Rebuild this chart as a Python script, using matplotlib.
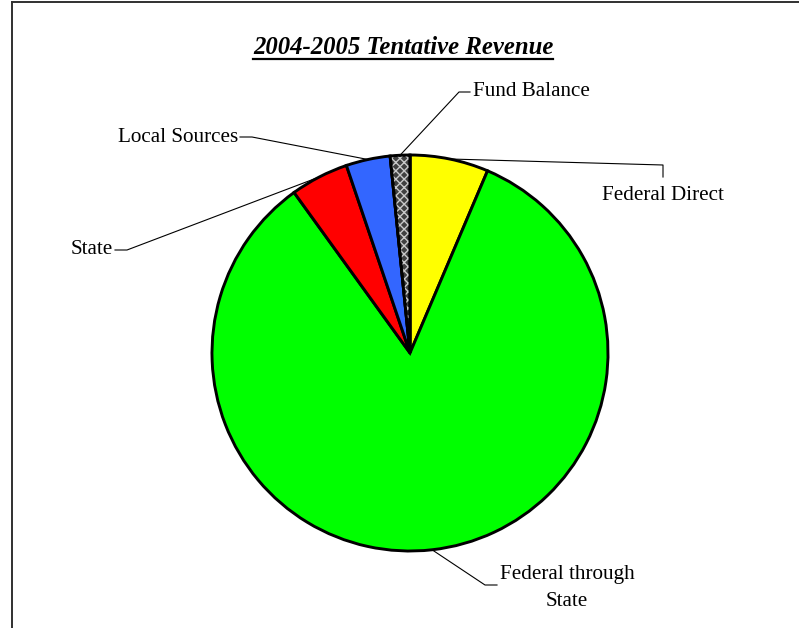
import numpy as np
import matplotlib
matplotlib.use("Agg")
import matplotlib.pyplot as plt
from matplotlib.patches import Wedge
from matplotlib.lines import Line2D

# Revenue shares (percent)
categories = ["Federal Direct", "Federal through\nState", "State", "Local Sources", "Fund Balance"]
shares = [6.4, 83.6, 4.75, 3.6, 1.6]
colors = ["#FFFF00", "#00FF00", "#FF0000", "#3366FF", "#404040"]
title = "2004-2005 Tentative Revenue"

W, H = 799, 628
fig = plt.figure(figsize=(W / 100, H / 100), dpi=100)
plt.rcParams["font.family"] = ["Liberation Serif", "DejaVu Serif"]

# pie centre and radius in pixels
cx, cy, R = 410, 353, 198
ax = fig.add_axes([(cx - R) / W, (H - cy - R) / H, 2 * R / W, 2 * R / H])

wedges, _ = ax.pie(shares, colors=colors, startangle=90, counterclock=False,
                   radius=1, wedgeprops=dict(edgecolor="black", linewidth=2.1),
                   normalize=True)
ax.set_xlim(-1, 1)
ax.set_ylim(-1, 1)
ax.set_aspect("auto")
ax.axis("off")

# cross-hatch texture on the fund balance slice
fb = wedges[-1]
ax.add_patch(Wedge(fb.center, fb.r, fb.theta1, fb.theta2, facecolor="none",
                   edgecolor="#c8c8c8", hatch="xxxx", linewidth=0))
ax.add_patch(Wedge(fb.center, fb.r, fb.theta1, fb.theta2, facecolor="none",
                   edgecolor="black", linewidth=2.1))


def px(x, y):
    return (x - cx) / R, (cy - y) / R


# label layout: text anchor (px), alignment, elbow points (px)
layout = {
    "Fund Balance": dict(pos=(473, 92), ha="left", path=[(459, 92), (470, 92)]),
    "Local Sources": dict(pos=(238, 138), ha="right", path=[(252, 137), (240, 137)]),
    "State": dict(pos=(113, 249), ha="right", path=[(127, 250), (115, 250)]),
    "Federal Direct": dict(pos=(663, 196), ha="center", path=[(663, 165), (663, 177)]),
    "Federal through\nState": dict(pos=(567, 588), ha="center", path=[(485, 585), (497, 585)]),
}

for w, name in zip(wedges, categories):
    mid = np.deg2rad((w.theta1 + w.theta2) / 2)
    start = (np.cos(mid), np.sin(mid))
    cfg = layout[name]
    pts = [start] + [px(*p) for p in cfg["path"]]
    xs, ys = zip(*pts)
    ax.plot(xs, ys, color="black", lw=0.8, clip_on=False, zorder=5)
    tx, ty = px(*cfg["pos"])
    ax.text(tx, ty, name, ha=cfg["ha"], va="center", fontsize=15.2,
            multialignment="center", linespacing=1.5, clip_on=False)

# title with underline
t = fig.text(403 / W, 1 - 47 / H, title, ha="center", va="center",
             fontsize=17.8, fontweight="bold", fontstyle="italic")
fig.canvas.draw()
bb = t.get_window_extent()
uy = 1 - 58.5 / H
fig.add_artist(Line2D([bb.x0 / W, bb.x1 / W], [uy, uy], color="black", lw=1.6,
                      transform=fig.transFigure))

# chart frame
fig.add_artist(Line2D([11.5 / W, 11.5 / W], [0, 1 - 1.5 / H], color="#303030", lw=1.4,
                      transform=fig.transFigure))
fig.add_artist(Line2D([11.5 / W, 1], [1 - 1.5 / H, 1 - 1.5 / H], color="#303030", lw=1.4,
                      transform=fig.transFigure))

fig.savefig("out.png", dpi=100, facecolor="white")
